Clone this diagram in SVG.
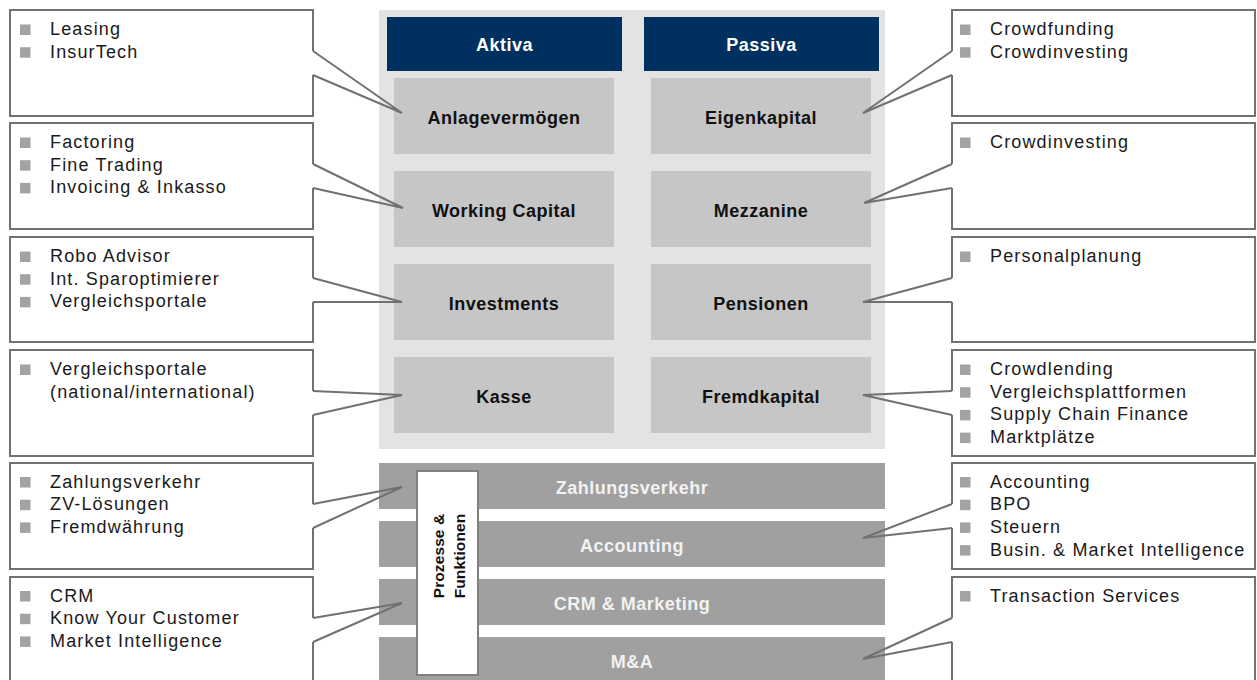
<svg xmlns="http://www.w3.org/2000/svg" width="1257" height="680" viewBox="0 0 1257 680">
<style>
.t{font-family:"Liberation Sans",Arial,sans-serif;font-size:18px;letter-spacing:1.15px;fill:#1a1a1a}
.lb{font-family:"Liberation Sans",Arial,sans-serif;font-size:18px;font-weight:bold;letter-spacing:0.5px;text-anchor:middle}
.pf{font-family:"Liberation Sans",Arial,sans-serif;font-size:15.5px;font-weight:bold;letter-spacing:0.1px;text-anchor:middle;fill:#111}
.dark{fill:#111}
.wh{fill:#fff}
.bw{fill:#f2f2f2}
.box{fill:#fff;stroke:#717171;stroke-width:2}
.bul{fill:#a3a3a3}
.hd{fill:#003060}
.nd{fill:#c6c6c6}
.bar{fill:#a0a0a0}
.con{fill:none;stroke:#717171;stroke-width:2;stroke-linejoin:miter}
</style>
<defs>
<rect id="sq" width="10.5" height="10.5" class="bul"/>
</defs>
<rect width="1257" height="680" fill="#fff"/>
<rect id="bg" x="379" y="10" width="506" height="439" fill="#e3e3e3"/>

<g id="aktiva"><rect x="387" y="17" width="235" height="54" class="hd"/><text x="504.5" y="51" class="lb wh">Aktiva</text></g>
<g id="passiva"><rect x="644" y="17" width="235" height="54" class="hd"/><text x="761.5" y="51" class="lb wh">Passiva</text></g>

<g id="anlagevermoegen"><rect x="394" y="78" width="220" height="76" class="nd"/><text x="504" y="124" class="lb dark">Anlagevermögen</text></g>
<g id="working-capital"><rect x="394" y="171" width="220" height="76" class="nd"/><text x="504" y="217" class="lb dark">Working Capital</text></g>
<g id="investments"><rect x="394" y="264" width="220" height="76" class="nd"/><text x="504" y="310" class="lb dark">Investments</text></g>
<g id="kasse"><rect x="394" y="357" width="220" height="76" class="nd"/><text x="504" y="403" class="lb dark">Kasse</text></g>

<g id="eigenkapital"><rect x="651" y="78" width="220" height="76" class="nd"/><text x="761" y="124" class="lb dark">Eigenkapital</text></g>
<g id="mezzanine"><rect x="651" y="171" width="220" height="76" class="nd"/><text x="761" y="217" class="lb dark">Mezzanine</text></g>
<g id="pensionen"><rect x="651" y="264" width="220" height="76" class="nd"/><text x="761" y="310" class="lb dark">Pensionen</text></g>
<g id="fremdkapital"><rect x="651" y="357" width="220" height="76" class="nd"/><text x="761" y="403" class="lb dark">Fremdkapital</text></g>

<g id="bar-zahlungsverkehr"><rect x="379" y="463" width="506" height="46" class="bar"/><text x="632" y="494" class="lb bw">Zahlungsverkehr</text></g>
<g id="bar-accounting"><rect x="379" y="521" width="506" height="46" class="bar"/><text x="632" y="552" class="lb bw">Accounting</text></g>
<g id="bar-crm"><rect x="379" y="579" width="506" height="46" class="bar"/><text x="632" y="610" class="lb bw">CRM &amp; Marketing</text></g>
<g id="bar-ma"><rect x="379" y="637" width="506" height="46" class="bar"/><text x="632" y="668" class="lb bw">M&amp;A</text></g>

<g id="prozesse"><rect x="417" y="471" width="61" height="204" fill="#fff" stroke="#808080" stroke-width="2"/>
<text transform="translate(443.5,556) rotate(-90)" class="pf"><tspan x="0" y="0">Prozesse &amp;</tspan><tspan x="0" y="21.5">Funktionen</tspan></text></g>

<!-- left callouts -->
<g id="left-1"><path class="box" d="M313,51 V10 H10 V116 H313 V75"/>
<use href="#sq" x="20" y="24.5"/><use href="#sq" x="20" y="47.2"/>
<text class="t" x="50" y="35">Leasing</text><text class="t" x="50" y="57.7">InsurTech</text></g>
<g id="left-2"><path class="box" d="M313,164 V123 H10 V229 H313 V188"/>
<use href="#sq" x="20" y="137.5"/><use href="#sq" x="20" y="160.2"/><use href="#sq" x="20" y="182.9"/>
<text class="t" x="50" y="148">Factoring</text><text class="t" x="50" y="170.7">Fine Trading</text><text class="t" x="50" y="193.4">Invoicing &amp; Inkasso</text></g>
<g id="left-3"><path class="box" d="M313,278 V237 H10 V342 H313 V302"/>
<use href="#sq" x="20" y="251.5"/><use href="#sq" x="20" y="274.2"/><use href="#sq" x="20" y="296.9"/>
<text class="t" x="50" y="262">Robo Advisor</text><text class="t" x="50" y="284.7">Int. Sparoptimierer</text><text class="t" x="50" y="307.4">Vergleichsportale</text></g>
<g id="left-4"><path class="box" d="M313,391 V350 H10 V456 H313 V415"/>
<use href="#sq" x="20" y="364.5"/>
<text class="t" x="50" y="375">Vergleichsportale</text><text class="t" x="50" y="397.7">(national/international)</text></g>
<g id="left-5"><path class="box" d="M313,504 V463 H10 V569 H313 V528"/>
<use href="#sq" x="20" y="477"/><use href="#sq" x="20" y="499.7"/><use href="#sq" x="20" y="522.4"/>
<text class="t" x="50" y="487.5">Zahlungsverkehr</text><text class="t" x="50" y="510.2">ZV-Lösungen</text><text class="t" x="50" y="532.9">Fremdwährung</text></g>
<g id="left-6"><path class="box" d="M313,618 V577 H10 V690 H313 V642"/>
<use href="#sq" x="20" y="591"/><use href="#sq" x="20" y="613.7"/><use href="#sq" x="20" y="636.4"/>
<text class="t" x="50" y="601.5">CRM</text><text class="t" x="50" y="624.2">Know Your Customer</text><text class="t" x="50" y="646.9">Market Intelligence</text></g>

<!-- right callouts -->
<g id="right-1"><path class="box" d="M952,51 V10 H1255 V116 H952 V75"/>
<use href="#sq" x="960" y="24.5"/><use href="#sq" x="960" y="47.2"/>
<text class="t" x="990" y="35">Crowdfunding</text><text class="t" x="990" y="57.7">Crowdinvesting</text></g>
<g id="right-2"><path class="box" d="M952,164 V123 H1255 V229 H952 V188"/>
<use href="#sq" x="960" y="137.5"/>
<text class="t" x="990" y="148">Crowdinvesting</text></g>
<g id="right-3"><path class="box" d="M952,278 V237 H1255 V342 H952 V302"/>
<use href="#sq" x="960" y="251.5"/>
<text class="t" x="990" y="262">Personalplanung</text></g>
<g id="right-4"><path class="box" d="M952,391 V350 H1255 V456 H952 V415"/>
<use href="#sq" x="960" y="364.5"/><use href="#sq" x="960" y="387.2"/><use href="#sq" x="960" y="409.9"/><use href="#sq" x="960" y="432.6"/>
<text class="t" x="990" y="375">Crowdlending</text><text class="t" x="990" y="397.7">Vergleichsplattformen</text><text class="t" x="990" y="420.4">Supply Chain Finance</text><text class="t" x="990" y="443.1">Marktplätze</text></g>
<g id="right-5"><path class="box" d="M952,504 V463 H1255 V569 H952 V528"/>
<use href="#sq" x="960" y="477"/><use href="#sq" x="960" y="499.7"/><use href="#sq" x="960" y="522.4"/><use href="#sq" x="960" y="545.1"/>
<text class="t" x="990" y="487.5">Accounting</text><text class="t" x="990" y="510.2">BPO</text><text class="t" x="990" y="532.9">Steuern</text><text class="t" x="990" y="555.6">Busin. &amp; Market Intelligence</text></g>
<g id="right-6"><path class="box" d="M952,618 V577 H1255 V690 H952 V642"/>
<use href="#sq" x="960" y="591"/>
<text class="t" x="990" y="601.5">Transaction Services</text></g>

<g id="connectors">
<polyline class="con" points="313,51 402,113 313,75"/>
<polyline class="con" points="313,164 403,208 313,188"/>
<polyline class="con" points="313,278 402,302 313,302"/>
<polyline class="con" points="313,391 402,395 313,415"/>
<polyline class="con" points="313,504 402,487 313,528"/>
<polyline class="con" points="313,618 402,603 313,642"/>
<polyline class="con" points="952,51 863,113 952,75"/>
<polyline class="con" points="952,164 864,203 952,188"/>
<polyline class="con" points="952,278 863,302 952,302"/>
<polyline class="con" points="952,391 863,395 952,415"/>
<polyline class="con" points="952,504 863,538 952,528"/>
<polyline class="con" points="952,618 863,659 952,642"/>
</g>
</svg>
